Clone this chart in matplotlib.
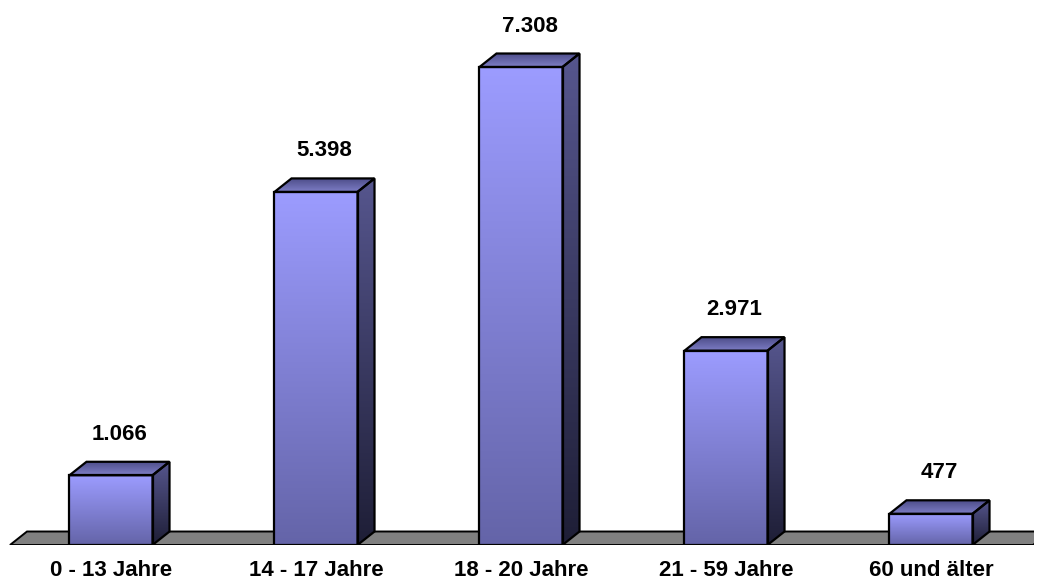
import numpy as np
import matplotlib.pyplot as plt
from matplotlib.patches import Polygon
from matplotlib.colors import LinearSegmentedColormap

categories = ["0 - 13 Jahre", "14 - 17 Jahre", "18 - 20 Jahre", "21 - 59 Jahre", "60 und älter"]
values = [1066, 5398, 7308, 2971, 477]
labels = ["1.066", "5.398", "7.308", "2.971", "477"]

W, H, DPI = 1040, 582, 100
bar_w = 0.405
# depth of the 3D effect, given in pixels and turned into data units below
depth_px = (17, 13.5)

front_cmap = LinearSegmentedColormap.from_list("front", ["#6464a8", "#9c9cff"])
side_cmap = LinearSegmentedColormap.from_list("side", ["#1e1e36", "#56568e"])
top_cmap = LinearSegmentedColormap.from_list("top", ["#4c4c88", "#7e7ec6"])

fig = plt.figure(figsize=(W / DPI, H / DPI), dpi=DPI)
ymax = 8000
ax = fig.add_axes([8.5 / W, 37 / H, 1025 / W, (ymax * 478 / 7308) / H])
ax.set_xlim(-0.5, len(values) - 0.5)
ax.set_ylim(0, ymax)
ax.axis("off")

# pixel -> data conversion for the depth offsets
x_per_px = (len(values)) / 1025
y_per_px = 7308 / 478
dx = depth_px[0] * x_per_px
dy = depth_px[1] * y_per_px

grad = np.linspace(0, 1, 256).reshape(-1, 1)


def shaded(poly_pts, cmap, extent, z):
    poly = Polygon(poly_pts, closed=True, facecolor="none", edgecolor="black",
                   linewidth=1.6, joinstyle="miter", zorder=z + 0.5)
    ax.add_patch(poly)
    im = ax.imshow(grad, cmap=cmap, extent=extent, origin="lower",
                   aspect="auto", interpolation="bilinear", zorder=z)
    im.set_clip_path(poly)


# floor
x_lo, x_hi = -0.5 + 1.5 * x_per_px, len(values) - 0.5 - 0.5 * x_per_px
floor = Polygon([(x_lo, 0), (x_hi, 0), (x_hi + dx, dy), (x_lo + dx, dy)],
                closed=True, facecolor="#808080", edgecolor="black",
                linewidth=1.4, zorder=1)
ax.add_patch(floor)

for i, (v, lab) in enumerate(zip(values, labels)):
    x0, x1 = i - bar_w / 2, i + bar_w / 2
    z = 2 + i
    # front face
    shaded([(x0, 0), (x1, 0), (x1, v), (x0, v)], front_cmap, (x0, x1, 0, v), z)
    # right side
    shaded([(x1, 0), (x1 + dx, dy), (x1 + dx, v + dy), (x1, v)], side_cmap,
           (x1, x1 + dx, 0, v + dy), z)
    # top face
    shaded([(x0, v), (x1, v), (x1 + dx, v + dy), (x0 + dx, v + dy)], top_cmap,
           (x0, x1 + dx, v + dy, v), z)
    ax.text(i + dx / 2, v + dy + 22 * y_per_px, lab, ha="center", va="baseline",
            fontsize=16, fontweight="bold", family="Liberation Sans", zorder=10)
    ax.text(i, -25 * y_per_px, categories[i], ha="center", va="center",
            fontsize=16, fontweight="bold", family="Liberation Sans", zorder=10)

fig.savefig("out.png", dpi=DPI, facecolor="white")
